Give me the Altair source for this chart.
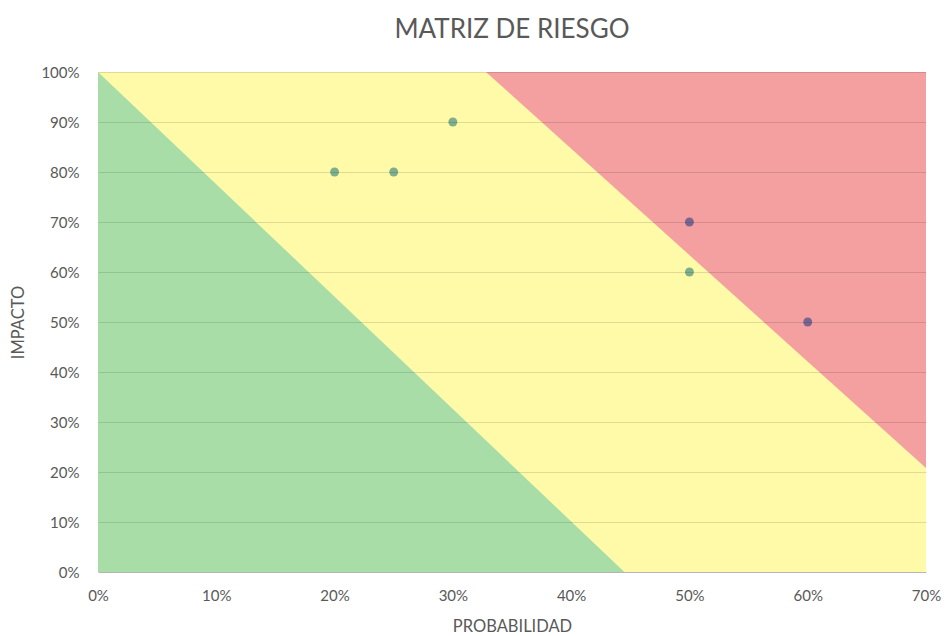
import altair as alt
import pandas as pd

# Risk points
prob = [0.20, 0.25, 0.30, 0.50, 0.50, 0.60]
impact = [0.80, 0.80, 0.90, 0.60, 0.70, 0.50]
group = ["bajo", "bajo", "bajo", "bajo", "alto", "alto"]

# Zone boundaries (probability, impact)
green_x = [0.0, 0.445]
green_top = [1.0, 0.0]
red_x = [0.328, 0.70]
red_bottom = [1.0, 0.208]
yellow_x = [0.0, 0.70]

x_ticks = [0, 0.1, 0.2, 0.3, 0.4, 0.5, 0.6, 0.7]
y_ticks = [0, 0.1, 0.2, 0.3, 0.4, 0.5, 0.6, 0.7, 0.8, 0.9, 1.0]

xs = alt.Scale(domain=[0, 0.7], nice=False, zero=True)
ys = alt.Scale(domain=[0, 1.0], nice=False)

xaxis = alt.Axis(format=".0%", values=x_ticks, grid=False, ticks=False,
                 domainColor="#d0d0d0", labelColor="#595959", labelFontSize=15,
                 labelPadding=16, labelFlush=False, title="PROBABILIDAD",
                 titleColor="#595959", titleFontSize=16.5, titleFontWeight="normal",
                 titlePadding=15, labelFont="Lato", titleFont="Lato")
yaxis = alt.Axis(format=".0%", values=y_ticks, grid=True, gridColor="#000000",
                 gridOpacity=0.12, ticks=False, domain=False, zindex=1,
                 labelColor="#595959", labelFontSize=15, labelPadding=19,
                 labelFlush=False,
                 title="IMPACTO", titleColor="#595959", titleFontSize=16.5,
                 titleFontWeight="normal", titlePadding=14,
                 labelFont="Lato", titleFont="Lato")

yellow = alt.Chart(pd.DataFrame({"x": yellow_x, "y": [0, 0], "y2": [1, 1]})).mark_area(
    color="#FFFAA8", opacity=1).encode(
    x=alt.X("x:Q", scale=xs, axis=xaxis),
    y=alt.Y("y:Q", scale=ys, axis=yaxis),
    y2="y2:Q")

green = alt.Chart(pd.DataFrame({"x": green_x, "y": [0, 0], "y2": green_top})).mark_area(
    color="#A8DDA8", opacity=1).encode(
    x=alt.X("x:Q", scale=xs), y=alt.Y("y:Q", scale=ys), y2="y2:Q")

red = alt.Chart(pd.DataFrame({"x": red_x, "y": red_bottom, "y2": [1, 1]})).mark_area(
    color="#F4A0A0", opacity=1).encode(
    x=alt.X("x:Q", scale=xs), y=alt.Y("y:Q", scale=ys), y2="y2:Q")

pts = alt.Chart(pd.DataFrame({"p": prob, "i": impact, "g": group})).mark_circle(
    size=80, opacity=1).encode(
    x=alt.X("p:Q", scale=xs),
    y=alt.Y("i:Q", scale=ys),
    color=alt.Color("g:N", scale=alt.Scale(domain=["bajo", "alto"],
                                            range=["#7FAE8C", "#7A6590"]),
                    legend=None))

chart = alt.layer(yellow, green, red, pts).properties(
    width=828, height=500,
    title=alt.Title("MATRIZ DE RIESGO", fontSize=26, color="#595959",
                    font="Lato", fontWeight="normal", offset=22, anchor="middle"),
    autosize=alt.AutoSizeParams(type="none"),
    padding={"left": 90, "top": 64, "right": 15, "bottom": 64},
).configure_view(stroke=None)

chart.save("out.html", embed_options={"renderer": "svg", "actions": False})
